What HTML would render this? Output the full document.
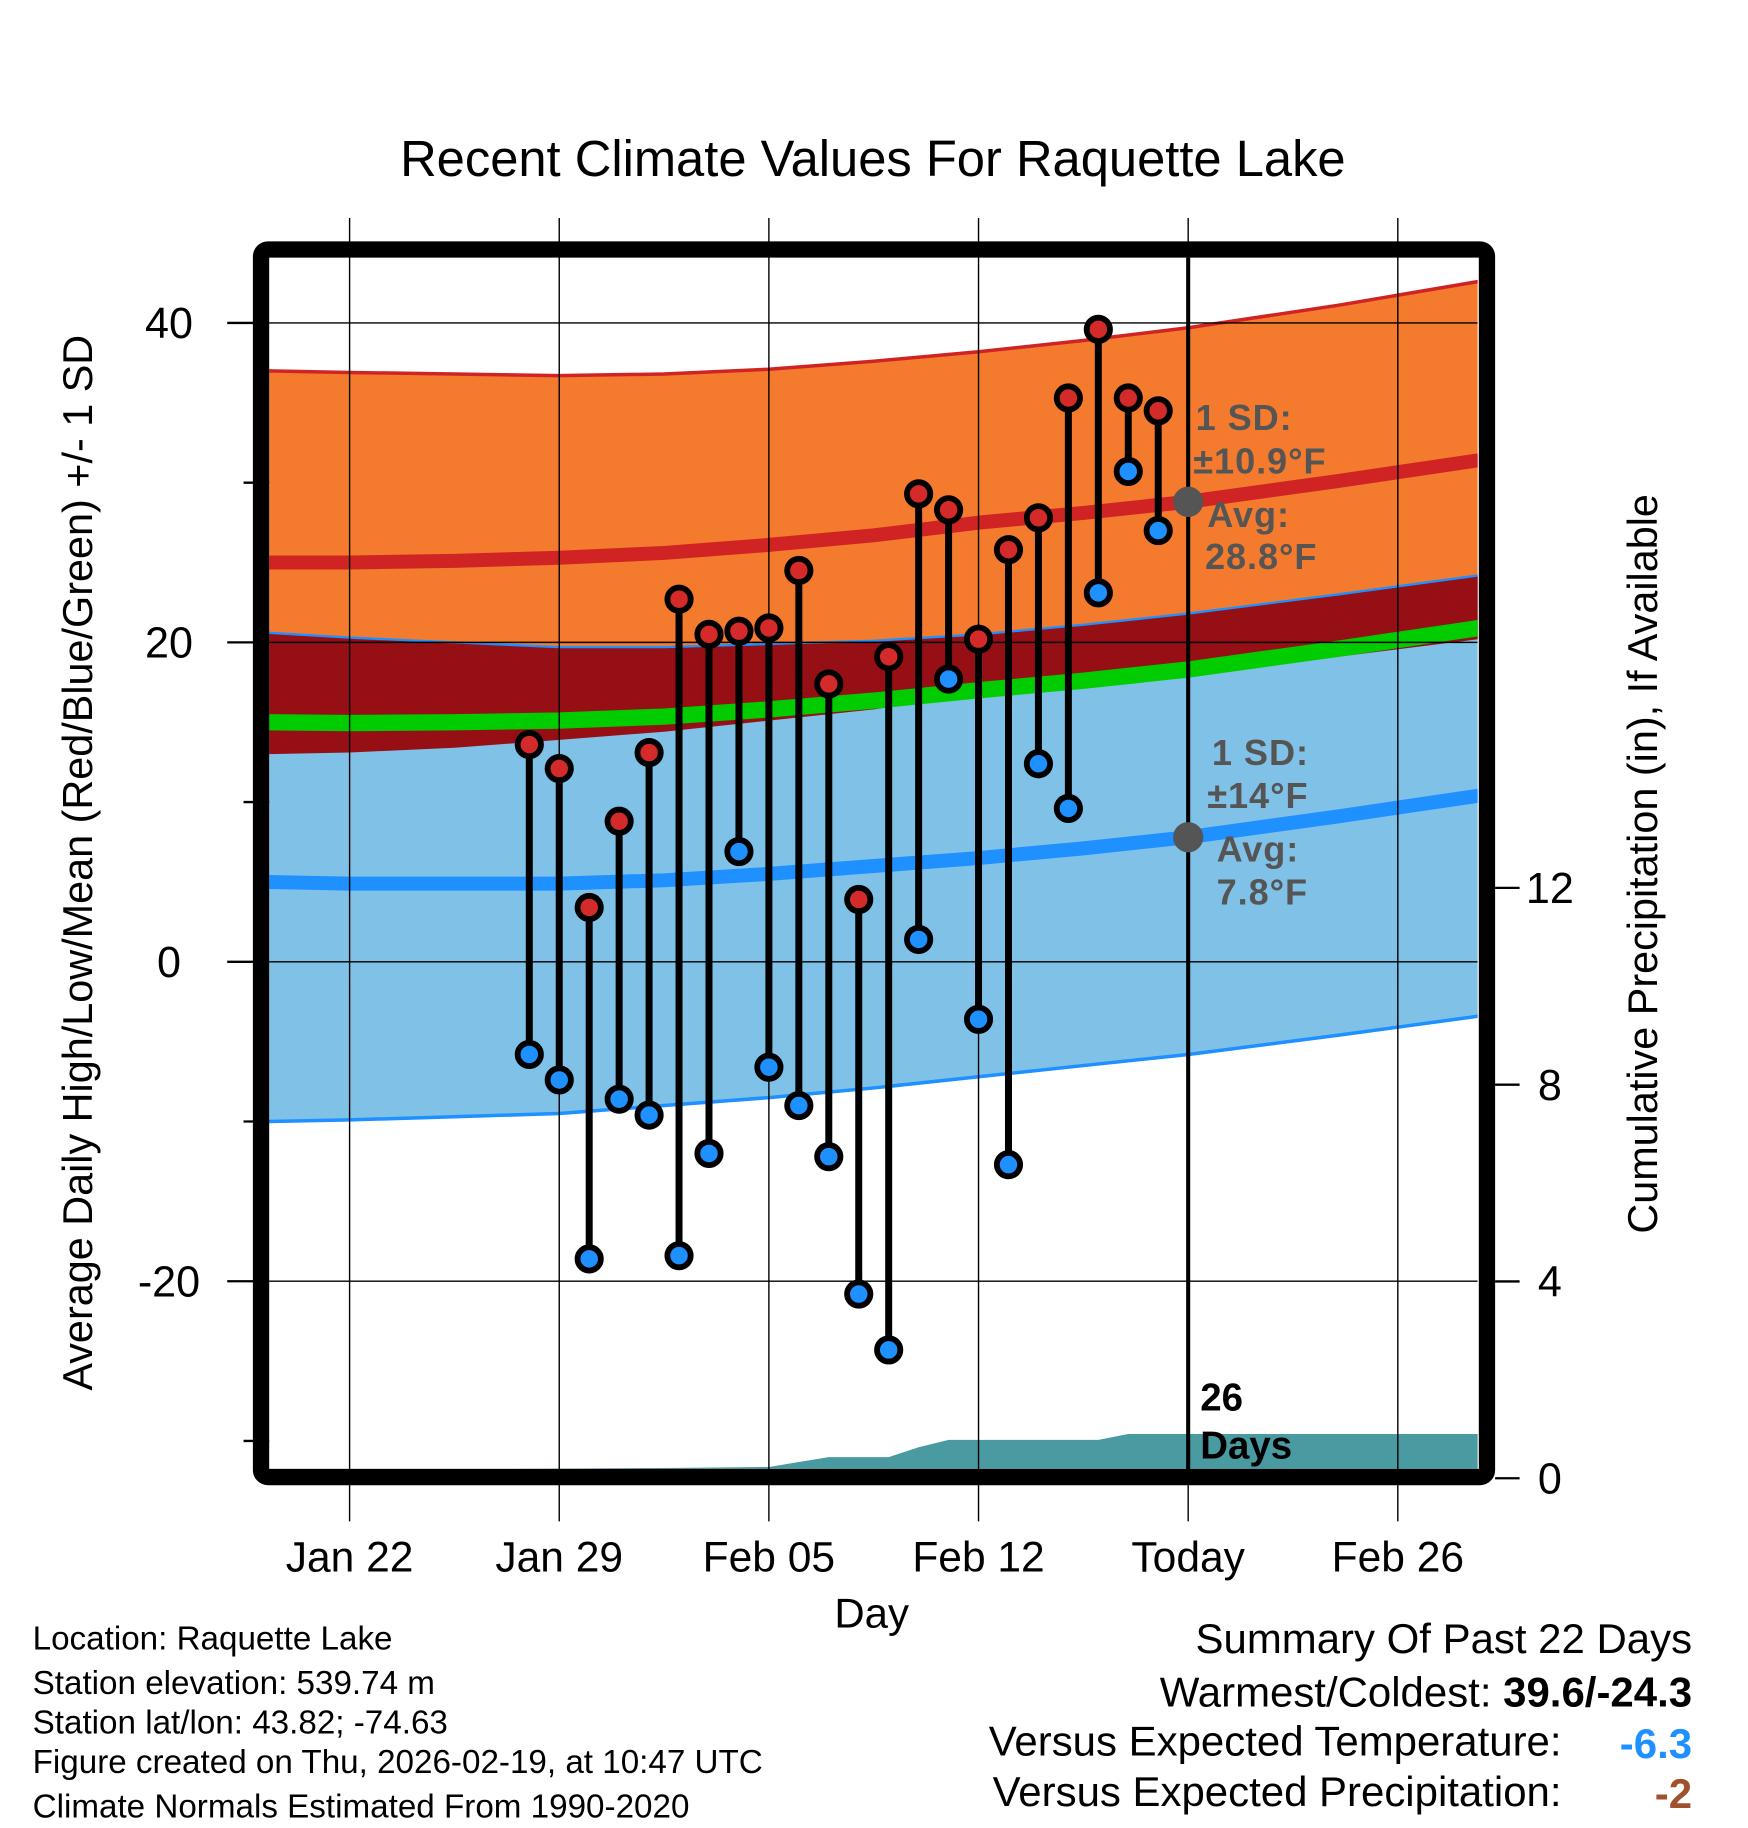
<!DOCTYPE html>
<html><head><meta charset="utf-8"><style>
html,body{margin:0;padding:0;background:#fff}
svg{display:block;font-family:"Liberation Sans",sans-serif}
</style></head><body>
<svg id="c" width="1748" height="1828" viewBox="0 0 1500 1568" preserveAspectRatio="none" xmlns="http://www.w3.org/2000/svg">
<defs><clipPath id="plotclip"><rect x="231" y="221" width="1037" height="1039"/></clipPath></defs>
<text x="749" y="151" font-size="43.5" text-anchor="middle">Recent Climate Values For Raquette Lake</text>
<g id="plot" clip-path="url(#plotclip)"></g>
<g id="axes"></g>
<g id="marks"></g>
<text transform="translate(79,740) rotate(-90)" font-size="35.5" text-anchor="middle">Average Daily High/Low/Mean (Red/Blue/Green) +/- 1 SD</text>
<text transform="translate(1422,741) rotate(-90)" font-size="35.5" text-anchor="middle">Cumulative Precipitation (in), If Available</text>
<text x="748" y="1396" font-size="36" text-anchor="middle">Day</text>
<g font-size="28.5">
<text x="28" y="1415">Location: Raquette Lake</text>
<text x="28" y="1453">Station elevation: 539.74 m</text>
<text x="28" y="1487">Station lat/lon: 43.82; -74.63</text>
<text x="28" y="1521">Figure created on Thu, 2026-02-19, at 10:47 UTC</text>
<text x="28" y="1559">Climate Normals Estimated From 1990-2020</text>
</g>
<g font-size="36">
<text x="1452" y="1418" text-anchor="end">Summary Of Past 22 Days</text>
<text x="1452" y="1464" text-anchor="end">Warmest/Coldest: <tspan font-weight="bold">39.6/-24.3</tspan></text>
<text x="1340" y="1506" text-anchor="end">Versus Expected Temperature:</text>
<text x="1452" y="1508" text-anchor="end" fill="#1e90ff" font-weight="bold">-6.3</text>
<text x="1340" y="1549" text-anchor="end">Versus Expected Precipitation:</text>
<text x="1452" y="1551" text-anchor="end" fill="#a0522d" font-weight="bold">-2</text>
</g>
</svg>
<script>
// normals sampled at days since Jan 22
const normDays   = [-2.7, 0, 3.5, 7, 10.5, 14, 17.5, 21, 24.5, 28, 33, 37.7];
const highMean   = [25.0, 25.0, 25.1, 25.3, 25.6, 26.1, 26.7, 27.5, 28.1, 28.8, 30.1, 31.4];
const highUpper  = [37.0, 36.9, 36.8, 36.7, 36.8, 37.1, 37.6, 38.2, 38.9, 39.7, 41.1, 42.6];
const lowMean    = [5.0, 4.9, 4.9, 4.9, 5.1, 5.5, 6.0, 6.5, 7.1, 7.8, 9.1, 10.4];
const lowUpper   = [20.6, 20.3, 20.0, 19.7, 19.7, 19.9, 20.1, 20.5, 21.1, 21.8, 23.0, 24.2];
const lowLower   = [-10.0, -9.9, -9.7, -9.5, -9.0, -8.5, -7.9, -7.2, -6.5, -5.8, -4.6, -3.4];
// observations
const obsDays  = [6,7,8,9,10,11,12,13,14,15,16,17,18,19,20,21,22,23,24,25,26,27];
const obsHigh  = [13.6,12.1,3.4,8.8,13.1,22.7,20.5,20.7,20.9,24.5,17.4,3.9,19.1,29.3,28.3,20.2,25.8,27.8,35.3,39.6,35.3,34.5];
const obsLow   = [-5.8,-7.4,-18.6,-8.6,-9.6,-18.4,-12.0,6.9,-6.6,-9.0,-12.2,-20.8,-24.3,1.4,17.7,-3.6,-12.7,12.4,9.6,23.1,30.7,27.0];
// cumulative precipitation
const precDays = [-2.7,5,11,14,15,16,18,19,20,25,26,37.7];
const precVals = [0.19,0.19,0.21,0.23,0.33,0.43,0.43,0.63,0.78,0.78,0.90,0.90];
const xTickDays = [0,7,14,21,28,35];
const xTickLabels = ["Jan 22","Jan 29","Feb 05","Feb 12","Today","Feb 26"];
const yTicks = [-20,0,20,40];
const yMinor = [-30,-10,10,30];
const pTicks = [0,4,8,12];

const X = d => 300 + d*25.7;
const Y = t => 825 - t*13.7;
const P = p => 1268 - p*42.2;
const NS = "http://www.w3.org/2000/svg";
function mk(tag, attrs, parent){const e=document.createElementNS(NS,tag);for(const k in attrs)e.setAttribute(k,attrs[k]);parent.appendChild(e);return e;}
const plot=document.getElementById('plot'), axes=document.getElementById('axes'), marks=document.getElementById('marks');
const pts=(ds,vs,f)=>ds.map((d,i)=>X(d).toFixed(1)+','+f(vs[i]).toFixed(1));
const highLower = highMean.map((m,i)=>2*m-highUpper[i]);
const meanMean = highMean.map((m,i)=>(m+lowMean[i])/2);
const rev=a=>a.slice().reverse();
function band(up,lo,fill,name){
  const p=pts(normDays,up,Y).concat(rev(pts(normDays,lo,Y)));
  const e=mk('polygon',{points:p.join(' '),fill:fill},plot);
  
  
}
function line(vals,stroke,w,name){
  const e=mk('polyline',{points:pts(normDays,vals,Y).join(' '),fill:'none',stroke:stroke,'stroke-width':w,'stroke-linejoin':'round'},plot);
  
  
}
band(highUpper,highLower,'#f47a2e','high-sd-band');
band(lowUpper,lowLower,'#80c1e7','low-sd-band');
band(lowUpper,highLower,'#960f15','overlap-band');
line(meanMean,'#00cc00',14,'mean-line');
line(highMean,'#d02424',12,'high-mean-line');
line(lowMean,'#1e90ff',12,'low-mean-line');
line(highUpper,'#d02424',3,'high-upper-line');
line(lowUpper,'#1e90ff',2,'low-upper-line');
line(lowLower,'#1e90ff',3,'low-lower-line');
// precip area
{
  const p=pts(precDays,precVals,P).concat([X(37.7)+','+P(0),X(-2.7)+','+P(0)]);
  const e=mk('polygon',{points:p.join(' '),fill:'#4a9aa2'},plot);
  
  
}
// grid
yTicks.forEach(t=>{
  const g=mk('line',{x1:231,x2:1268,y1:Y(t),y2:Y(t),stroke:'#000','stroke-width':1.2},plot);
  
  
  const tk=mk('line',{x1:195,x2:231,y1:Y(t),y2:Y(t),stroke:'#000','stroke-width':2},axes);
  
  
  const l=mk('text',{x:145,y:Y(t)+13,'font-size':37,'text-anchor':'middle'},axes);
  l.textContent=t;
  
  
});
yMinor.forEach(t=>{
  const tk=mk('line',{x1:209,x2:231,y1:Y(t),y2:Y(t),stroke:'#000','stroke-width':2},axes);
  
  
});
xTickDays.forEach((d,i)=>{
  const g=mk('line',{x1:X(d),x2:X(d),y1:187,y2:1305,stroke:'#000','stroke-width':1.2},axes);
  
  
  const l=mk('text',{x:X(d),y:1348,'font-size':36.5,'text-anchor':'middle'},axes);
  l.textContent=xTickLabels[i];
  
  
});
pTicks.forEach(p=>{
  const tk=mk('line',{x1:1283,x2:1304,y1:P(p),y2:P(p),stroke:'#000','stroke-width':2},axes);
  
  
  const l=mk('text',{x:1330,y:P(p)+13,'font-size':37,'text-anchor':'middle'},axes);
  l.textContent=p;
  
  
});
// today line
{
  const e=mk('line',{x1:X(28),x2:X(28),y1:221,y2:1262,stroke:'#000','stroke-width':3.5},axes);
  
  
}
// frame
{
  const e=mk('rect',{x:224,y:214,width:1052,height:1053,rx:6,fill:'none',stroke:'#000','stroke-width':14},axes);
  
  
}
// annotations
function txt(x,y,s,name,attrs,parent){
  const e=mk('text',Object.assign({x:x,y:y},attrs),parent);
  e.textContent=s;
  
  
  return e;
}
const ann={'font-size':31,'font-weight':'bold',fill:'#555','letter-spacing':'0.8'};
txt(1030,1210,'26','days-label',{'font-size':33,'font-weight':'bold'},axes);
txt(1030,1251,'Days','days-label',{'font-size':33,'font-weight':'bold'},axes);
{
  const a=mk('circle',{cx:X(28),cy:Y(highMean[9]),r:13,fill:'#555'},axes);
  
  
  const b=mk('circle',{cx:X(28),cy:Y(lowMean[9]),r:13,fill:'#555'},axes);
  
  
}
txt(1026,369,'1 SD:','high-sd-label',ann,axes);
txt(1024,406,'±10.9°F','high-sd-value',ann,axes);
txt(1036,452,'Avg:','high-avg-label',ann,axes);
txt(1034,488,'28.8°F','high-avg-value',ann,axes);
txt(1040,656,'1 SD:','low-sd-label',ann,axes);
txt(1036,693,'±14°F','low-sd-value',ann,axes);
txt(1044,739,'Avg:','low-avg-label',ann,axes);
txt(1044,776,'7.8°F','low-avg-value',ann,axes);
// observations
obsDays.forEach((d,i)=>{
  const s=mk('line',{x1:X(d),x2:X(d),y1:Y(obsHigh[i]),y2:Y(obsLow[i]),stroke:'#000','stroke-width':6},marks);
  
  
});
obsDays.forEach((d,i)=>{
  const h=mk('circle',{cx:X(d),cy:Y(obsHigh[i]),r:10,fill:'#d42a2a',stroke:'#000','stroke-width':5},marks);
  
  
  const l=mk('circle',{cx:X(d),cy:Y(obsLow[i]),r:10,fill:'#1e90ff',stroke:'#000','stroke-width':5},marks);
  
  
});
</script>
</body></html>
